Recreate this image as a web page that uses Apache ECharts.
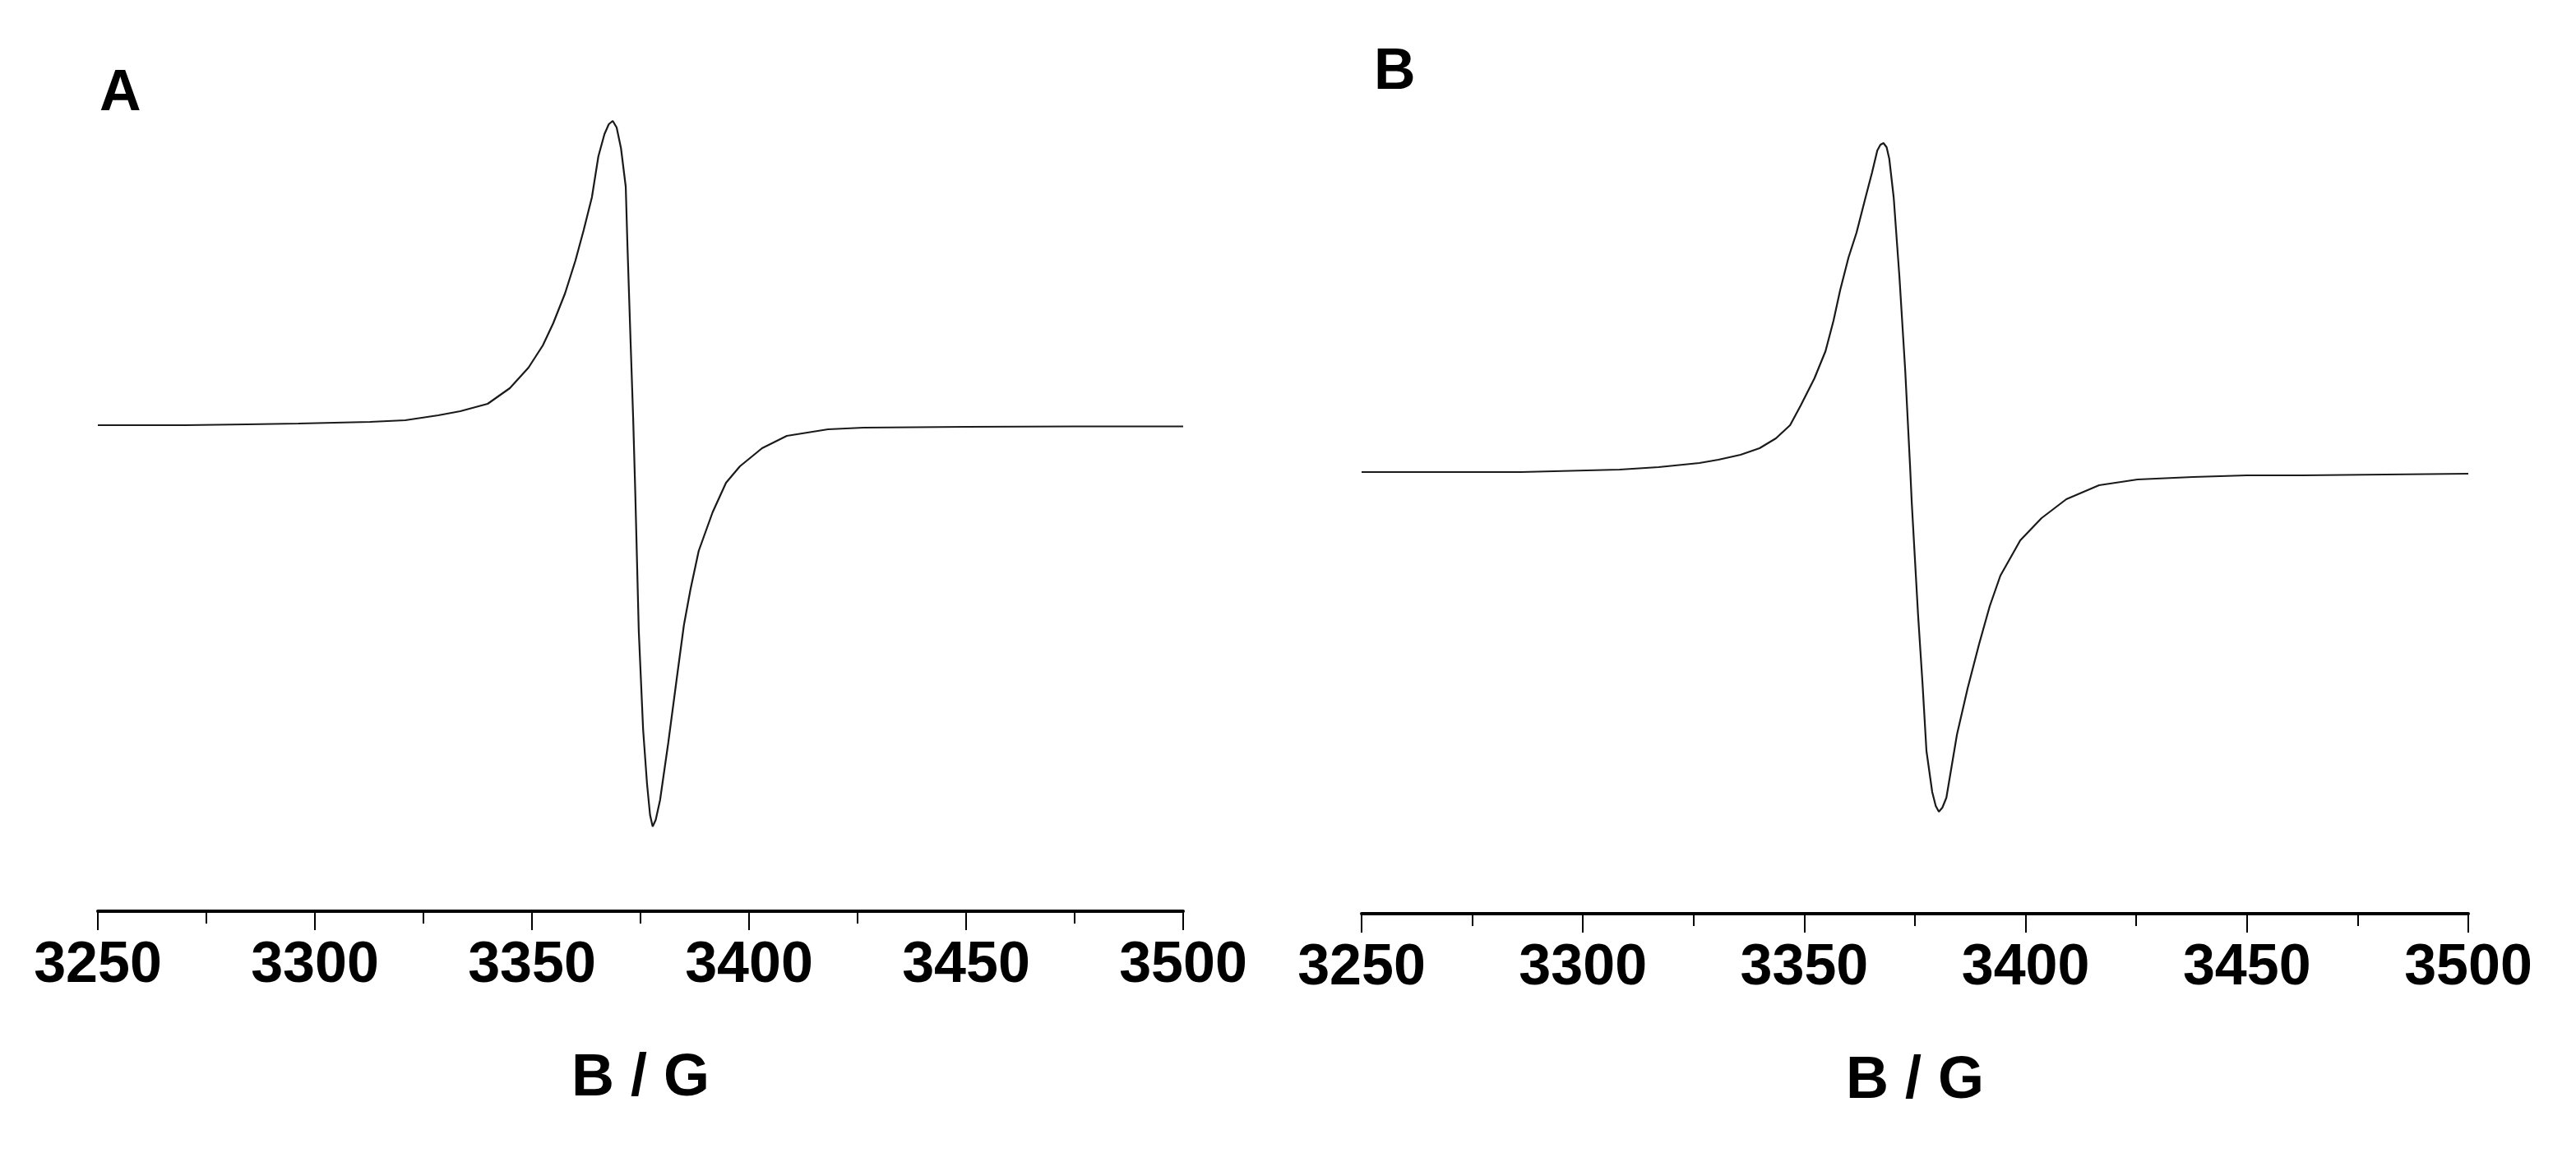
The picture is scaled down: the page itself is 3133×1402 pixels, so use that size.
<!DOCTYPE html>
<html>
<head>
<meta charset="utf-8">
<script src="https://cdn.jsdelivr.net/npm/echarts@6/dist/echarts.min.js"></script>
<style>
html,body{margin:0;padding:0;background:#fff;}
#chart{width:3133px;height:1402px;}
</style>
</head>
<body>
<div id="chart"></div>
<script>
// Panel A: magnetic field (G) and derivative EPR signal (arb. units)
const fieldA = [3250.0, 3270.0, 3284.3, 3296.2, 3312.7, 3320.8, 3328.4, 3333.5, 3339.8, 3344.9, 3349.2, 3352.5, 3354.9, 3357.6, 3360.0, 3361.9, 3363.8, 3365.3, 3366.7, 3367.7, 3368.6, 3369.5, 3370.5, 3371.6, 3372.0, 3372.7, 3373.3, 3373.8, 3374.6, 3375.6, 3376.5, 3377.2, 3377.8, 3378.5, 3379.5, 3381.4, 3383.3, 3385.0, 3386.5, 3388.4, 3391.6, 3394.7, 3397.9, 3403.0, 3408.7, 3418.2, 3426.4, 3450.0, 3475.0, 3500.0];
const signalA = [0.00, 0.00, 0.01, 0.02, 0.04, 0.06, 0.12, 0.17, 0.26, 0.45, 0.70, 0.97, 1.24, 1.60, 2.00, 2.37, 2.77, 3.27, 3.54, 3.66, 3.70, 3.62, 3.37, 2.90, 2.17, 1.04, 0.10, -0.83, -2.50, -3.70, -4.36, -4.74, -4.88, -4.80, -4.56, -3.86, -3.10, -2.43, -2.00, -1.53, -1.06, -0.70, -0.50, -0.28, -0.13, -0.05, -0.03, -0.02, -0.015, -0.015];

// Panel B
const fieldB = [3250.0, 3286.0, 3308.3, 3317.1, 3326.3, 3330.6, 3335.6, 3339.9, 3343.6, 3346.8, 3349.2, 3352.3, 3354.8, 3356.6, 3358.1, 3360.0, 3361.8, 3363.7, 3365.3, 3366.5, 3367.2, 3367.9, 3368.6, 3369.2, 3370.2, 3371.5, 3372.8, 3373.9, 3374.3, 3375.7, 3376.7, 3377.6, 3378.9, 3379.7, 3380.4, 3381.2, 3382.1, 3384.5, 3386.9, 3389.5, 3391.9, 3394.3, 3398.8, 3403.6, 3409.2, 3416.6, 3425.3, 3437.8, 3450.0, 3462.5, 3500.0];
const signalB = [0.01, 0.01, 0.04, 0.07, 0.12, 0.16, 0.22, 0.30, 0.42, 0.58, 0.82, 1.15, 1.48, 1.85, 2.22, 2.62, 2.92, 3.32, 3.65, 3.92, 3.99, 4.01, 3.96, 3.82, 3.35, 2.38, 1.25, 0.08, -0.38, -1.72, -2.55, -3.38, -3.88, -4.05, -4.12, -4.07, -3.95, -3.18, -2.62, -2.08, -1.62, -1.25, -0.82, -0.55, -0.32, -0.15, -0.08, -0.05, -0.03, -0.03, -0.01];

const xMin = 3250, xMax = 3500, xStep = 50;
const panelLabels = ['A', 'B'];
const axisTitle = 'B / G';

const pairs = (xs, ys) => xs.map((x, i) => [x, ys[i]]);
const FONT = '"Liberation Sans", Arial, sans-serif';

function xAxisFor(gridIndex) {
  return {
    gridIndex: gridIndex,
    type: 'value',
    min: xMin, max: xMax, interval: xStep,
    name: axisTitle,
    nameLocation: 'middle',
    nameGap: 168,
    nameTextStyle: { fontFamily: FONT, fontWeight: 'bold', fontSize: 72, color: '#000' },
    axisLine: { show: true, onZero: false, lineStyle: { color: '#000', width: 4 } },
    axisTick: { show: true, inside: false, length: 23, lineStyle: { color: '#000', width: 2 } },
    minorTick: { show: true, splitNumber: 2, length: 15, lineStyle: { color: '#000', width: 2 } },
    splitLine: { show: false },
    minorSplitLine: { show: false },
    axisLabel: {
      show: true, margin: 32, fontFamily: FONT, fontWeight: 'bold', fontSize: 70, color: '#000',
      formatter: function (v) { return String(v); }
    }
  };
}

const option = {
  backgroundColor: '#fff',
  animation: false,
  grid: [
    { left: 119, right: 1694, top: 117, bottom: 294 },
    { left: 1656, right: 131, top: 125, bottom: 291 }
  ],
  xAxis: [xAxisFor(0), xAxisFor(1)],
  yAxis: [
    { gridIndex: 0, type: 'value', min: -5.91, max: 4.0, show: false, splitLine: { show: false } },
    { gridIndex: 1, type: 'value', min: -5.36, max: 4.5, show: false, splitLine: { show: false } }
  ],
  graphic: [
    { type: 'text', left: 121, top: 80, style: { text: panelLabels[0], font: 'bold 70px ' + FONT, fill: '#000' } },
    { type: 'text', left: 1671, top: 54, style: { text: panelLabels[1], font: 'bold 70px ' + FONT, fill: '#000' } }
  ],
  series: [
    {
      type: 'line', xAxisIndex: 0, yAxisIndex: 0,
      data: pairs(fieldA, signalA),
      showSymbol: false, smooth: false,
      lineStyle: { color: '#1a1a1a', width: 2.2 }
    },
    {
      type: 'line', xAxisIndex: 1, yAxisIndex: 1,
      data: pairs(fieldB, signalB),
      showSymbol: false, smooth: false,
      lineStyle: { color: '#1a1a1a', width: 2.2 }
    }
  ]
};

const chart = echarts.init(document.getElementById('chart'), null, { renderer: 'canvas' });
chart.setOption(option);
</script>
</body>
</html>
